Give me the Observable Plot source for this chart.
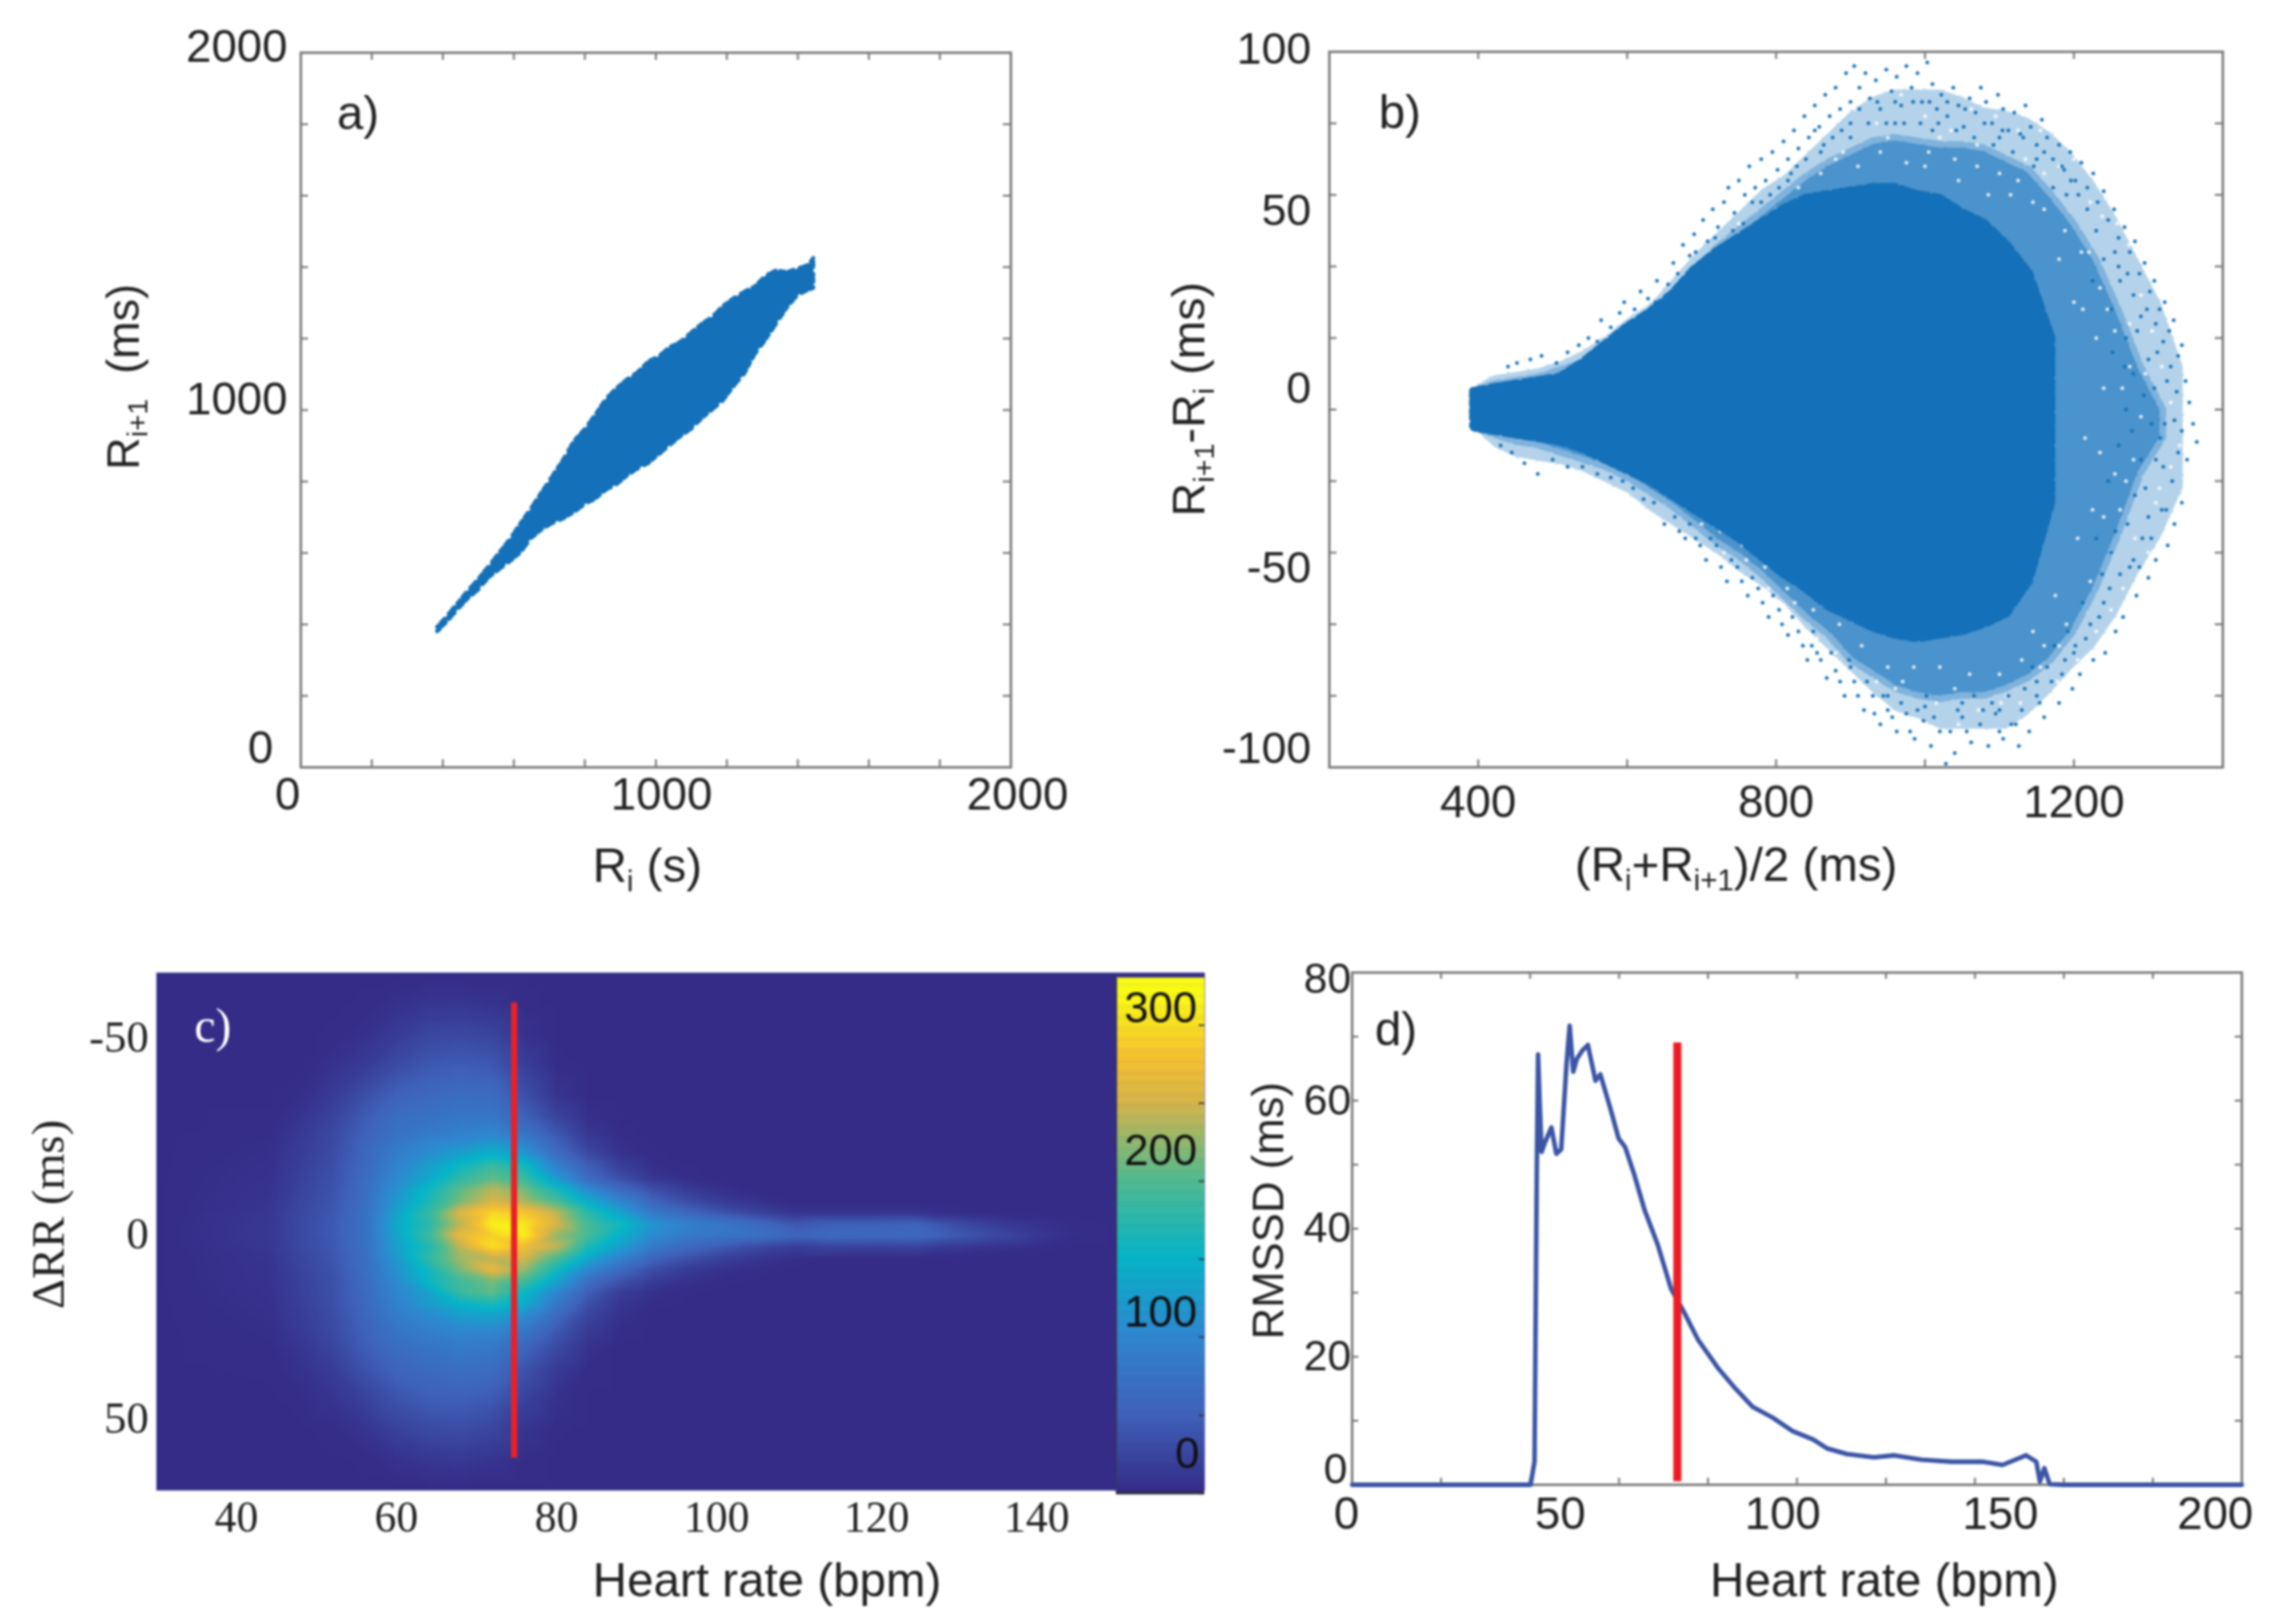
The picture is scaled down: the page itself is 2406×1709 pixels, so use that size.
<!DOCTYPE html>
<html><head><meta charset="utf-8">
<script src="https://cdn.jsdelivr.net/npm/d3@7"></script>
<script src="https://cdn.jsdelivr.net/npm/@observablehq/plot@0.6"></script>
<style>
html,body{margin:0;padding:0;background:#fff;width:2406px;height:1709px;overflow:hidden}
#page{position:relative;width:2406px;height:1709px;filter:blur(0.9px)}
</style></head><body><div id="page"></div>
<script>
// ---------- panel a: Poincare envelope ----------
const aX=[385,410,440,470,500,530,560,590,620,650,680,710,740,770,800,830,860,890,920,950,980,1010,1040,1070,1100,1130,1160,1190,1220,1250,1280,1310,1340,1370,1400,1430,1445];
const aHi=[392,420,455,492,525,562,600,638,682,725,770,815,860,912,945,985,1030,1060,1085,1105,1135,1150,1175,1190,1215,1240,1260,1290,1312,1330,1345,1375,1390,1385,1395,1405,1425];
const aLo=[378,404,437,470,495,530,553,575,600,640,665,682,695,712,735,750,775,790,815,835,850,875,900,925,945,975,1000,1025,1065,1100,1155,1195,1240,1285,1320,1335,1340];
// ---------- panel b: Bland-Altman bands ----------
const bX=[394,420,450,480,510,540,570,600,630,660,690,720,750,780,810,840,870,900,930,960,990,1020,1050,1080,1110,1140,1170,1200,1230,1260,1290,1320,1350];
const bOuterHi=[7,10,11,12,14,17,21,26,30,37,44,50,56,62,66,72,78,84,88,90,90,90,88,85,84,82,78,72,64,54,42,30,12];
const bOuterLo=[-6,-11,-14,-15,-16,-18,-21,-24,-29,-33,-37,-41,-46,-50,-55,-62,-68,-74,-80,-85,-87,-90,-90,-90,-90,-86,-80,-73,-67,-58,-46,-36,-22];
const bMidHi=[5,7,8,9,11,13,16,20,25,30,38,45,50,55,60,65,69,72,75,76,75,74,74,73,70,67,60,52,42,28,12,0];
const bMidLo=[-5,-7,-9,-10,-12,-14,-16,-19,-23,-27,-32,-37,-41,-46,-52,-58,-63,-70,-74,-78,-80,-81,-80,-80,-78,-75,-70,-62,-50,-35,-18,-8];
const bCoreHi=[5,6,7,8,9,13,18,23,27,32,39,44,48,52,56,59,60,61,62,62,60,59,55,52,46,38,20];
const bCoreLo=[-5,-6,-7,-8,-9,-11,-14,-17,-20,-24,-28,-32,-36,-41,-46,-50,-55,-58,-61,-63,-64,-63,-62,-60,-57,-48,-26];
const bDots=[[440,12],[452,13],[470,14],[485,15],[505,13],[520,16],[535,18],[548,20],[560,19],[565,25],[578,23],[590,27],[596,30],[610,28],[618,33],[628,31],[640,36],[646,30],[655,35],[662,41],[668,38],[675,46],[684,43],[690,49],[696,40],[702,53],[708,47],[715,56],[722,51],[730,58],[736,62],[744,55],[750,64],[758,60],[764,68],[772,62],[780,70],[786,64],[795,72],[802,67],[810,75],[816,70],[824,78],[830,73],[838,82],[844,76],[852,85],[858,79],[866,88],[872,82],[880,90],[886,84],[894,94],[900,86],[905,96],[912,90],[920,94],[926,87],[934,92],[940,84],[948,95],[955,89],[962,93],[968,85],[975,96],[982,90],[990,94],[996,86],[1003,97],[1010,91],[1016,84],[1022,88],[1030,82],[1038,90],[1045,85],[1052,79],[1060,87],[1068,83],[1075,90],[1082,86],[1090,80],[1098,88],[1105,84],[1112,78],[1120,83],[1128,77],[1135,85],[1142,79],[1150,74],[1157,81],[1164,76],[1172,70],[1180,74],[1187,67],[1195,72],[1202,64],[1210,69],[1218,62],[1226,66],[1232,58],[1240,61],[1246,53],[1254,56],[1260,48],[1268,51],[1275,44],[1282,47],[1288,38],[1295,41],[1302,33],[1308,36],[1315,28],[1322,30],[1328,22],[1334,25],[1340,15],[1345,18],[1350,8],[1355,2],[1360,-4],[1365,-9],[1352,-14],[1345,-6],[1338,5],[1330,12],[1320,19],[1310,24],[1300,14],[1290,26],[1280,32],[1270,20],[1262,36],[1250,28],[1340,-12],[1332,-20],[1345,-26],[1335,-32],[1326,-38],[1318,-28],[1310,-42],[1300,-47],[1292,-36],[1284,-52],[1275,-44],[1266,-58],[1256,-62],[1248,-50],[1242,-68],[1234,-58],[1226,-70],[1216,-64],[1208,-74],[1198,-78],[1188,-70],[1180,-82],[1170,-76],[1160,-86],[1150,-80],[1140,-90],[1130,-84],[1126,-94],[1116,-88],[1105,-92],[1095,-85],[1085,-94],[1074,-88],[1062,-93],[1050,-86],[1040,-96],[1028,-99],[1020,-90],[1008,-94],[998,-87],[986,-92],[975,-85],[962,-90],[950,-84],[940,-88],[930,-80],[918,-84],[905,-76],[892,-80],[880,-73],[868,-75],[855,-68],[842,-70],[830,-62],[816,-63],[804,-56],[790,-58],[776,-50],[762,-52],[748,-44],[734,-48],[720,-38],[706,-42],[692,-36],[678,-36],[664,-30],[650,-32],[636,-26],[622,-25],[608,-22],[594,-20],[578,-19],[560,-18],[540,-16],[520,-16],[500,-14],[480,-18],[462,-15],[445,-12],[430,-10],[1010,78],[960,80],[900,76],[860,72],[820,66],[1100,76],[1150,70],[1190,60],[1230,50],[1260,40],[1200,-68],[1150,-76],[1100,-84],[1050,-82],[1000,-83],[950,-80],[900,-72],[850,-62],[1240,-54],[1280,-42],[1300,-30],[1320,-16],[1280,10],[1260,-10],[1290,-14],[1304,-4],[1316,-8],[1270,0],[1252,16],[1246,-20],[1256,-34],
[1225,36],[1240,42],[1255,44],[1272,38],[1285,22],[1298,28],[1312,16],[1325,8],[1335,-3],[1322,-4],[1308,6],[1294,4],[1278,-6],[1268,12],[1282,-24],[1296,-22],[1310,-14],[1324,-28],[1304,-36],[1288,-44],[1272,-32],[1262,-46],[1250,-40],[1238,-46],[1230,-36],[1222,-60],[1212,-54],[1202,-66],[1192,-62],[1184,-74],[1174,-66],[1164,-72],[1154,-82],[1144,-72],[1134,-78],[1122,-88],[1112,-80],[1100,-90],[1090,-82],[1078,-84],[1066,-80],[1056,-90],[1044,-84],[1034,-90],[1012,-86],[1002,-80],[990,-84],[980,-90],[968,-82],[956,-86],[944,-80],[932,-85],[922,-76],[910,-80],[898,-70],[886,-76],[874,-68],[860,-70],[848,-66],[836,-66],[822,-58],[808,-60],[796,-52],[782,-54],[768,-47],[754,-48],[740,-42],[726,-44],[712,-36],[698,-38],[684,-32],[670,-34],[1218,56],[1206,60],[1196,64],[1184,68],[1172,62],[1160,72],[1146,68],[1132,76],[1118,72],[1104,78],[1092,74],[1080,80],[1066,76],[1054,84],[1042,78],[1030,86],[1018,80],[1006,86],[994,80],[984,86],[972,80],[960,86],[948,80],[936,86],[924,80],[912,84],[900,80],[888,78],[876,76],[864,74],[852,78],[840,70],[828,68],[816,64],[804,62],[792,60],[780,58],[768,58],[756,52],[742,50],[730,46],[718,48],[704,42],[692,44],[680,38],[666,34],[652,32],[638,30],[624,26],[608,24]];
const bGaps=[[800,56],[830,62],[860,66],[880,70],[910,68],[940,72],[975,69],[1005,72],[1040,70],[1070,68],[1100,66],[1125,64],[1160,56],[1188,50],[1210,44],[1235,34],[1255,22],[1275,12],[1290,-2],[1270,-20],[1250,-40],[1222,-48],[1190,-60],[1160,-66],[1130,-70],[1100,-74],[1060,-74],[1020,-72],[985,-72],[950,-72],[915,-66],[885,-60],[850,-56],[815,-50],[785,-44],[755,-38],[725,-34],[695,-28],[750,46],[720,42],[690,34],[660,26],[1230,20],[1240,6],[1215,-8],[1225,-28],[1200,30],[1180,42],[1145,58],[1115,60],[1205,-36],[1175,-52],[1145,-62],[1000,68],[905,62],[1045,64],[1085,60],
[815,70],[845,74],[875,80],[905,84],[935,80],[968,88],[1000,82],[1035,78],[1062,84],[1095,82],[1125,78],[1155,78],[1180,68],[1200,70],[1222,58],[1238,54],[1258,52],[1274,46],[1290,32],[1305,22],[1318,12],[1330,2],[1342,-10],[1330,-16],[1315,-22],[1300,-40],[1282,-36],[1266,-50],[1250,-56],[1230,-62],[1205,-70],[1178,-76],[1155,-72],[1128,-82],[1102,-82],[1072,-84],[1045,-88],[1015,-82],[990,-88],[960,-78],[935,-76],[905,-82],[880,-68],[855,-64],[825,-54],[790,-50],[760,-42],[730,-40],[700,-32],[780,62],[750,52],[725,44],[700,38],[672,30],[1280,-14],[1265,6],[1255,-18],[1245,28],[1240,-30],[1262,-28],[1296,10],[1310,-26],[1275,24],[1220,44],[1212,28],[1235,-12],[1160,66],[1135,70],[1070,74],[1020,76],[950,76],[890,72],[1110,-80],[1040,-78],[970,-76],[1180,-66]];
// ---------- panel c: density matrix ----------
const hX=[30,44,48,52,56,60,64,68,72,76,80,84,88,92,96,100,105,110,115,120,125,130,135,140,145,150,161];
const hY=[-68,-60,-52,-44,-36,-30,-26,-23,-20,-17,-14,-11,-8,-5,-2,1,4,7,10,13,16,19,22,26,30,36,44,52,60,68];
const hV=[
[],
[0,0,0,0,1,5,9,9,6,1],
[0,0,0,1,5,14,24,26,22,6],
[0,0,0,6,14,28,40,44,40,16,2],
[0,0,3,14,32,50,58,64,62,32,8],
[0,1,8,22,44,66,72,78,80,50,22,4],
[0,2,12,26,50,72,82,92,98,72,38,10,1],
[0,3,14,28,54,80,98,108,122,98,52,18,4],
[0,4,16,30,56,88,110,132,150,125,70,30,8,1],
[0,5,18,32,60,96,128,160,188,165,92,48,18,4,1],
[0,6,20,34,62,102,135,178,205,185,120,62,32,10,3],
[0,7,22,36,65,112,158,205,240,215,165,105,62,32,16,6],
[0,8,24,38,66,120,165,215,250,232,195,140,98,52,32,16,6],
[0,10,26,40,68,130,182,255,295,280,240,175,130,82,58,40,22,8,8,8,8,3],
[0,11,27,42,70,136,175,240,312,305,250,190,160,115,92,80,62,40,50,50,52,30,16,7,2],
[0,11,27,42,70,132,185,265,290,310,225,190,145,105,85,78,70,55,62,58,60,42,28,12,3],
[0,10,26,40,68,126,170,240,300,270,240,165,125,82,60,46,28,16,22,20,22,12,6,3],
[0,8,24,38,66,120,178,230,240,250,195,135,92,55,36,22,10,3],
[0,7,22,36,65,112,160,215,262,225,160,100,60,30,15,6,2],
[0,7,20,34,62,104,155,190,215,190,130,66,36,15,6,2],
[0,6,19,33,60,98,130,185,205,155,98,46,16,4,1],
[0,5,18,32,58,92,122,150,165,140,80,32,9,2],
[0,4,16,30,55,86,105,125,130,105,60,22,5],
[0,3,14,28,50,76,90,100,102,78,42,14,2],
[0,2,10,24,46,66,76,84,82,55,28,6],
[0,1,6,16,36,54,62,68,64,36,14,2],
[0,0,2,8,20,36,46,48,42,20,5],
[0,0,0,2,8,20,28,30,24,8,1],
[0,0,0,0,1,6,10,12,8,2],
[]
];
const cbStops=[0,50,100,150,200,250,280,318];
const cbColors=["#352c87","#3f62ba","#2f87d0","#05b5c8","#52bb8e","#d8b548","#f7c32e","#f9fb15"];
const cbTicks=[0,50,100,150,200,250,300];
// ---------- panel d: RMSSD vs heart rate ----------
const dX=[0,20,40.1,41,41.5,41.8,42.2,42.6,43.3,44.8,45.9,47,48.2,48.9,49.7,50.5,51.7,53,54.7,55.8,58,59.9,61.4,63.4,65.7,68.7,71.7,74.5,77.8,82.4,86.2,90,94.5,99,103.6,106.7,111.2,117.3,121.9,128,134.8,141.6,146.2,151.5,153.8,154.6,155.6,156.8,159.9,200];
const dY=[0,0,0,3.6,48.5,67.2,58.9,52,53.4,55.8,51.7,52.4,65.8,71.7,64.5,66.5,67.8,68.7,63.1,64.1,58.9,54.1,52.7,48.5,43,37.5,30.6,27.1,22.6,18.1,15,12.2,10.5,8.4,7.1,5.7,4.8,4.3,4.6,3.9,3.6,3.6,3.1,4.6,3.6,0.5,2.6,0.1,0,0];
const dMarker=[73.1];
const cMarker=[74.7];

// ---------- helpers ----------
const BLUE="#1470b8", GREY="#767676", INK="#222";
const ROUGH="1.5 4 3 2 1 7 2 3 4 5 1 2";
const SANS="'Liberation Sans',Arial,sans-serif", SERIF="'Liberation Serif','Times New Roman',serif";
const page=document.getElementById("page");
function place(opts,box){ // box: inner frame in page pixels
  const pad={l:box.l,t:box.t,r:box.pr||140,b:box.pb||150};
  const svg=Plot.plot({
    width:box.r-box.l+pad.l+pad.r, height:box.b-box.t+pad.t+pad.b,
    marginLeft:pad.l,marginRight:pad.r,marginTop:pad.t,marginBottom:pad.b,
    style:{position:"absolute",left:"0",top:"0",background:"transparent",overflow:"visible"},
    ...opts});
  svg.style.pointerEvents="none";
  page.appendChild(svg);
  d3.select(svg).selectAll("text").each(function(){
    const s=this.textContent; if(!s.includes("_{"))return;
    const fs=parseFloat(getComputedStyle(this).fontSize)||44;
    const parts=s.split(/_\{|\}/); this.textContent="";
    let shift=0;
    parts.forEach((p,i)=>{ if(!p)return;
      const t=document.createElementNS("http://www.w3.org/2000/svg","tspan");
      t.textContent=p;
      const sub=i%2===1, want=sub?fs*0.2:0;
      t.setAttribute("dy",want-shift); shift=want;
      if(sub)t.setAttribute("font-size",fs*0.62);
      this.appendChild(t);
    });
  });
}
const innerTicks=(xs,ys,w,h,len,stroke=GREY)=>[
  Plot.tickX(xs,{x:d=>d,insetTop:h-len,stroke,strokeWidth:2}),
  Plot.tickX(xs,{x:d=>d,insetBottom:h-len,stroke,strokeWidth:2}),
  Plot.tickY(ys,{y:d=>d,insetRight:w-len,stroke,strokeWidth:2}),
  Plot.tickY(ys,{y:d=>d,insetLeft:w-len,stroke,strokeWidth:2})];
const lx=(v,dx,dy,fs=48,ff=SANS,ink=INK)=>Plot.text([v],{x:d=>d,frameAnchor:"bottom",lineAnchor:"middle",dx,dy,text:d=>String(d),fontSize:fs,fontFamily:ff,fill:ink});
const ly=(v,dx,dy,fs=48,ff=SANS,ink=INK)=>Plot.text([v],{y:d=>d,frameAnchor:"left",textAnchor:"end",lineAnchor:"middle",dx,dy,text:d=>String(d),fontSize:fs,fontFamily:ff,fill:ink});
const title=(s,anchor,dx,dy,rot,fs,ff=SANS)=>Plot.text([s],{frameAnchor:anchor,textAnchor:"middle",lineAnchor:"middle",dx,dy,rotate:rot,text:d=>d,fontSize:fs,fontFamily:ff,fill:INK});
const tag=(s,dx,dy,ff=SANS,ink=INK)=>Plot.text([s],{frameAnchor:"top-left",textAnchor:"start",lineAnchor:"middle",dx,dy,text:d=>d,fontSize:50,fontFamily:ff,fill:ink});

// ---------- panel a ----------
{
 const box={l:316,t:55,r:1063,b:807};
 const rows=aX.map((x,i)=>({x,hi:aHi[i],lo:aLo[i]}));
 place({x:{domain:[0,2000],axis:null},y:{domain:[0,2000],axis:null},marks:[
  Plot.frame({stroke:GREY,strokeWidth:2.5}),
  ...innerTicks(d3.range(200,2000,200),d3.range(200,2000,200),box.r-box.l,box.b-box.t,8),
  Plot.area(rows,{x1:"x",x2:"x",y1:"lo",y2:"hi",fill:BLUE,stroke:BLUE,strokeWidth:4,strokeDasharray:ROUGH}),
  lx(0,-14,29),lx(1000,6,29),lx(2000,7,29),
  ly(2000,-14,-6),ly(1000,-14,-11),ly(0,-29,-20),
  title("R_{i} (s)","bottom",-9,104,0,50),
  title("R_{i+1}  (ms)","left",-186,-35,-90,47.5),
  tag("a)",38,64)
 ]},box);
}
// ---------- panel b ----------
{
 const box={l:1398,t:54,r:2338,b:807,pr:68};
 const outer=bOuterHi.map((hi,i)=>({x:bX[i],hi,lo:bOuterLo[i]}));
 const mid=bMidHi.map((hi,i)=>({x:bX[i],hi,lo:bMidLo[i]}));
 const core=bCoreHi.map((hi,i)=>({x:bX[i],hi,lo:bCoreLo[i]}));
 place({x:{domain:[200,1400],axis:null},y:{domain:[-100,100],axis:null},marks:[
  Plot.area(outer,{x1:"x",x2:"x",y1:"lo",y2:"hi",fill:"#b4d3ea",stroke:"#fff",strokeWidth:5,strokeDasharray:"3 3 6 2 2 5"}),
  Plot.area(mid,{x1:"x",x2:"x",y1:"lo",y2:"hi",fill:"#4a93cc",stroke:"#7fb2dc",strokeWidth:7,strokeDasharray:"4 3 2 6 5 2"}),
  Plot.dot(bGaps,{x:d=>d[0],y:d=>d[1],r:2,fill:"#fff",fillOpacity:0.85}),
  Plot.dot(bDots,{x:d=>d[0],y:d=>d[1],r:2,fill:BLUE}),
  Plot.area(core,{x1:"x",x2:"x",y1:"lo",y2:"hi",fill:BLUE,stroke:BLUE,strokeWidth:9,strokeDasharray:ROUGH}),
  Plot.frame({stroke:GREY,strokeWidth:2.5}),
  ...innerTicks(d3.range(400,1400,200),d3.range(-80,100,20),box.r-box.l,box.b-box.t,8),
  lx(400,0,37),lx(800,0,37),lx(1200,0,37),
  ly(100,-19,-3,47),ly(50,-19,-21,47),ly(0,-19,-22,47),ly(-50,-19,-21,47),ly(-100,-19,-20,47),
  title("(R_{i}+R_{i+1})/2 (ms)","bottom",-42,103,0,50),
  title("R_{i+1}-R_{i} (ms)","left",-147,-11,-90,49),
  tag("b)",52,64)
 ]},box);
}
// ---------- panel c ----------
{
 const box={l:164,t:1023,r:1267,b:1568,pb:141};
 const pts=[];
 hY.forEach((y,j)=>hX.forEach((x,i)=>pts.push({x,y,v:hV[j][i]??0})));
 place({
  x:{domain:[30,161],axis:null},y:{domain:[-68,68],reverse:true,axis:null},
  color:{type:"linear",domain:cbStops,range:cbColors,clamp:true},
  marks:[
  Plot.raster(pts,{x:"x",y:"y",fill:"v",interpolate:"barycentric",pixelSize:3}),
  Plot.ruleX(cMarker,{y1:-60,y2:59.5,stroke:"#e8202a",strokeWidth:6.5}),
  lx(40,0,29,46,SERIF),lx(60,0,29,46,SERIF),lx(80,0,29,46,SERIF),lx(100,0,29,46,SERIF),lx(120,0,29,46,SERIF),lx(140,0,29,46,SERIF),
  ly(-50,-8,-4,47,SERIF),ly(0,-8,3,47,SERIF),ly(50,-8,-3,47,SERIF),
  title("Heart rate (bpm)","bottom",91,95,0,50),
  title("ΔRR (ms)","left",-113,-18,-90,49,SERIF),
  tag("c)",40,56,SERIF,"#fff")
 ]},box);
 // colour bar, drawn with its own value scale
 const bar={l:1174,t:1029,r:1267,b:1571,pb:138};
 const levels=d3.range(0,330,2);
 const barLabel=(v,dx,dy)=>Plot.text([v],{x:0.5,y:d=>d,dx,dy,text:d=>String(d),fontSize:46,fontFamily:SANS,fill:"#111",lineAnchor:"middle"});
 place({
  x:{domain:[0,1],axis:null},y:{domain:[0,330],axis:null},
  color:{type:"linear",domain:cbStops,range:cbColors,clamp:true},
  marks:[
  Plot.rect(levels,{x1:0,x2:1,y1:d=>d,y2:d=>d+2.2,fill:d=>d}),
  Plot.tickY(cbTicks,{y:d=>d,insetLeft:bar.r-bar.l-6,stroke:"#333",strokeWidth:1.5}),
  Plot.ruleX([0],{stroke:"#3a3a5a",strokeWidth:1.5}),
  Plot.ruleY([0],{stroke:"#222",strokeWidth:2}),
  barLabel(300,0,-18),barLabel(200,0,-32),barLabel(100,0,-26),barLabel(0,28,-41)
 ]},bar);
}
// ---------- panel d ----------
{
 const box={l:1422,t:1023,r:2358,b:1562,pr:48,pb:147};
 const rows=dX.map((x,i)=>({x,y:dY[i]}));
 place({x:{domain:[0,200],axis:null},y:{domain:[0,80],axis:null},marks:[
  Plot.frame({stroke:GREY,strokeWidth:2.5}),
  ...innerTicks(d3.range(20,200,20),d3.range(10,80,10),box.r-box.l,box.b-box.t,7),
  Plot.line(rows,{x:"x",y:"y",stroke:"#3b55a5",strokeWidth:4.8,strokeLinejoin:"round"}),
  Plot.ruleX(dMarker,{y1:0.5,y2:69,stroke:"#ed1c24",strokeWidth:8.5}),
  lx(0,-6,31),lx(50,-15,31),lx(100,-15,31),lx(150,-20,31),lx(200,-28,31),
  ly(80,-1,7,45),ly(60,-1,0,45),ly(40,-1,0,45),ly(20,-1,0,45),ly(0,-5,-16,45),
  title("Heart rate (bpm)","bottom",92,101,0,50),
  title("RMSSD (ms)","left",-87,-19,-90,46),
  tag("d)",24,60)
 ]},box);
}
</script></body></html>
